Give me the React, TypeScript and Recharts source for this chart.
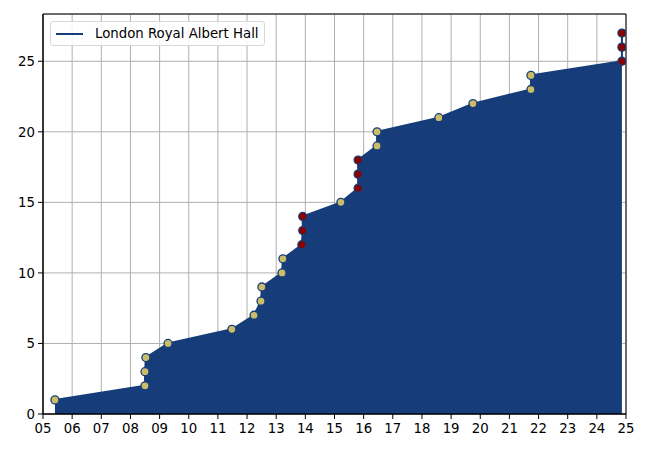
import React from "react";
import {
  ComposedChart,
  Area,
  XAxis,
  YAxis,
  CartesianGrid,
  ReferenceArea,
} from "recharts";

// concert dates (fractional year) and running count
const concertYears = [
  2005.41, 2008.5, 2008.5, 2008.53, 2009.29, 2011.48, 2012.24, 2012.48, 2012.51,
  2013.2, 2013.23, 2013.88, 2013.91, 2013.91, 2015.22, 2015.81, 2015.81, 2015.81,
  2016.46, 2016.46, 2018.58, 2019.75, 2021.74, 2021.74, 2024.86, 2024.86, 2024.86,
];
const showCounts = [
  1, 2, 3, 4, 5, 6, 7, 8, 9, 10, 11, 12, 13, 14, 15, 16, 17, 18, 19, 20, 21, 22,
  23, 24, 25, 26, 27,
];
const highlighted = [
  false, false, false, false, false, false, false, false, false, false, false,
  true, true, true, false, true, true, true, false, false, false, false, false,
  false, true, true, true,
];
const xTicks = [
  2005, 2006, 2007, 2008, 2009, 2010, 2011, 2012, 2013, 2014, 2015, 2016, 2017,
  2018, 2019, 2020, 2021, 2022, 2023, 2024, 2025,
];
const yTicks = [0, 5, 10, 15, 20, 25];

const BLUE = "#163d7a";
const KHAKI = "#cbbc68";
const RED = "#8b0000";
const FONT = "'DejaVu Sans', sans-serif";

const data = concertYears.map((year, i) => ({
  year,
  count: showCounts[i],
  hl: highlighted[i],
}));

const renderDot = (props: any) => {
  const { cx, cy, payload, index } = props;
  if (cx == null || cy == null) return <g key={index} />;
  return (
    <circle
      key={index}
      cx={cx}
      cy={cy}
      r={4}
      fill={payload.hl ? RED : KHAKI}
      stroke={BLUE}
      strokeWidth={1.3}
    />
  );
};

export default function App() {
  return (
    <div style={{ position: "absolute", left: 0, top: 0, width: 650, height: 450, background: "#fff" }}>
      <ComposedChart
        width={650}
        height={450}
        data={data}
        margin={{ top: 14, right: 24, left: 8, bottom: 6 }}
      >
        <CartesianGrid stroke="#b0b0b0" strokeWidth={1} />
        <XAxis
          dataKey="year"
          type="number"
          domain={[2005, 2025]}
          ticks={xTicks}
          interval={0}
          allowDataOverflow
          height={30}
          tickFormatter={(t: number) => String(t % 100).padStart(2, "0")}
          tick={{ fill: "#000", fontSize: 13.3, fontFamily: FONT }}
          tickLine={{ stroke: "#000" }}
          axisLine={{ stroke: "#000" }}
          tickSize={5}
          tickMargin={5}
        />
        <YAxis
          type="number"
          domain={[0, 28.35]}
          ticks={yTicks}
          interval={0}
          allowDataOverflow
          width={35}
          tick={{ fill: "#000", fontSize: 13.3, fontFamily: FONT }}
          tickLine={{ stroke: "#000" }}
          axisLine={{ stroke: "#000" }}
          tickSize={5}
          tickMargin={3}
        />
        <Area
          type="linear"
          dataKey="count"
          baseValue={0}
          stroke={BLUE}
          strokeWidth={2}
          fill={BLUE}
          fillOpacity={1}
          dot={renderDot}
          activeDot={false}
          isAnimationActive={false}
        />
        <ReferenceArea
          x1={2005}
          x2={2025}
          y1={0}
          y2={28.35}
          fill="none"
          fillOpacity={0}
          stroke="#000"
          strokeWidth={1}
        />
      </ComposedChart>
      {/* legend, upper left inside the axes */}
      <div
        style={{
          position: "absolute",
          left: 50,
          top: 21,
          display: "flex",
          alignItems: "center",
          border: "1px solid #d8d8d8",
          borderRadius: 3,
          background: "rgba(255,255,255,0.85)",
          padding: "4px 5px 4px 5px",
          fontFamily: FONT,
          fontSize: 13.3,
          color: "#000",
          whiteSpace: "nowrap",
        }}
      >
        <div style={{ width: 27, height: 0, borderTop: `2px solid ${BLUE}`, marginRight: 12 }} />
        London Royal Albert Hall
      </div>
    </div>
  );
}
